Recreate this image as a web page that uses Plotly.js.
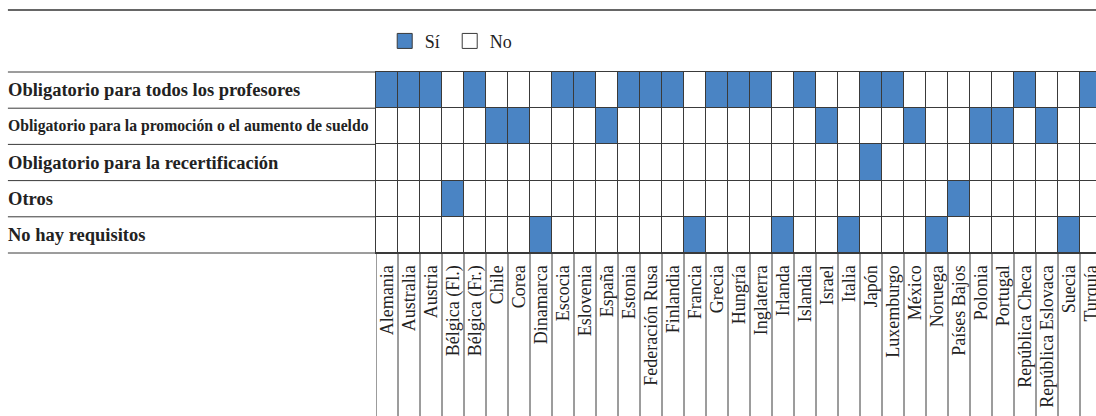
<!DOCTYPE html>
<html><head><meta charset="utf-8">
<script src="https://cdn.plot.ly/plotly-3.0.1.min.js"></script>
<style>html,body{margin:0;padding:0;overflow:hidden;background:#fff}#chart{width:1110px;height:416px}</style>
</head><body><div id="chart"></div>
<script>
const countries = ['Alemania','Australia','Austria','Bélgica (Fl.)','Bélgica (Fr.)','Chile','Corea','Dinamarca','Escocia','Eslovenia','España','Estonia','Federación Rusa','Finlandia','Francia','Grecia','Hungría','Inglaterra','Irlanda','Islandia','Israel','Italia','Japón','Luxemburgo','México','Noruega','Países Bajos','Polonia','Portugal','República Checa','República Eslovaca','Suecia','Turquía'];
const categories = ['Obligatorio para todos los profesores','Obligatorio para la promoción o el aumento de sueldo','Obligatorio para la recertificación','Otros','No hay requisitos'];
const obligatorioTodos   = [1,1,1,0,1,0,0,0,1,1,0,1,1,1,0,1,1,1,0,1,0,0,1,1,0,0,0,0,0,1,0,0,1];
const promocionSueldo    = [0,0,0,0,0,1,1,0,0,0,1,0,0,0,0,0,0,0,0,0,1,0,0,0,1,0,0,1,1,0,1,0,0];
const recertificacion    = [0,0,0,0,0,0,0,0,0,0,0,0,0,0,0,0,0,0,0,0,0,0,1,0,0,0,0,0,0,0,0,0,0];
const otros              = [0,0,0,1,0,0,0,0,0,0,0,0,0,0,0,0,0,0,0,0,0,0,0,0,0,0,1,0,0,0,0,0,0];
const noRequisitos       = [0,0,0,0,0,0,0,1,0,0,0,0,0,0,1,0,0,0,1,0,0,1,0,0,0,1,0,0,0,0,0,1,0];
const legendLabels = ['Sí','No'];

const BLUE = '#4a84c4', LINE = '#3a3a3a', FONT = 'Liberation Serif', TXT = '#222';

const z = [obligatorioTodos, promocionSueldo, recertificacion, otros, noRequisitos];

const traces = [{
  type: 'heatmap', x: countries, y: categories, z: z,
  zmin: 0, zmax: 1, colorscale: [[0, '#ffffff'], [1, BLUE]],
  showscale: false, xgap: 1, ygap: 1, hoverinfo: 'skip', showlegend: false
}, {
  type: 'scatter', mode: 'markers', x: [null], y: [null], name: legendLabels[0],
  marker: {symbol: 'square', size: 15, color: BLUE, line: {color: LINE, width: 1}}
}, {
  type: 'scatter', mode: 'markers', x: [null], y: [null], name: legendLabels[1],
  marker: {symbol: 'square', size: 15, color: '#ffffff', line: {color: LINE, width: 1}}
}];

const leftEdge = -0.51;
const shapes = [];
// vertical separators continuing through the label area
for (let i = 0; i <= countries.length; i++) {
  shapes.push({type: 'line', xref: 'x', yref: 'paper', x0: i - 0.5, x1: i - 0.5, y0: 0, y1: -1,
    line: {color: LINE, width: 1}, layer: 'above'});
}
// horizontal separators through the row-label area
for (let j = 0; j <= categories.length; j++) {
  shapes.push({type: 'line', xref: 'paper', yref: 'paper', x0: -0.507, x1: 0,
    y0: 1 - j / categories.length, y1: 1 - j / categories.length,
    line: {color: LINE, width: 1}});
}
// top rule
shapes.push({type: 'line', xref: 'paper', yref: 'paper', x0: -0.507, x1: 1.2, y0: 1.3425, y1: 1.3425,
  line: {color: '#333', width: 1.5}});

const annotations = categories.map((c, j) => ({
  xref: 'paper', yref: 'y', x: leftEdge, y: c, xanchor: 'left', yanchor: 'middle',
  text: c, showarrow: false,
  font: {family: FONT, size: j === 1 ? 15.7 : 18.5, color: TXT, weight: 'bold'}
}));

const layout = {
  width: 1110, height: 416,
  margin: {l: 376, r: 8, t: 72, b: 163, pad: 0},
  paper_bgcolor: '#ffffff', plot_bgcolor: LINE,
  xaxis: {type: 'category', tickangle: -90, ticks: '', showgrid: false, zeroline: false,
    showline: true, mirror: true, linecolor: LINE, linewidth: 1,
    tickfont: {family: FONT, size: 18, color: TXT}, ticklabelstandoff: 4,
    range: [-0.5, countries.length - 0.5], fixedrange: true},
  yaxis: {type: 'category', autorange: 'reversed', showticklabels: false, ticks: '',
    showgrid: false, zeroline: false, showline: true, mirror: true, linecolor: LINE, linewidth: 1,
    fixedrange: true},
  showlegend: true,
  legend: {orientation: 'h', x: 0.012, y: 1.17, xanchor: 'left', yanchor: 'middle',
    font: {family: FONT, size: 18, color: TXT}, bgcolor: 'rgba(0,0,0,0)', itemwidth: 30,
    entrywidth: 20, entrywidthmode: 'pixels'},
  shapes: shapes, annotations: annotations
};

Plotly.newPlot('chart', traces, layout, {staticPlot: true, displayModeBar: false});
</script>
</body></html>
